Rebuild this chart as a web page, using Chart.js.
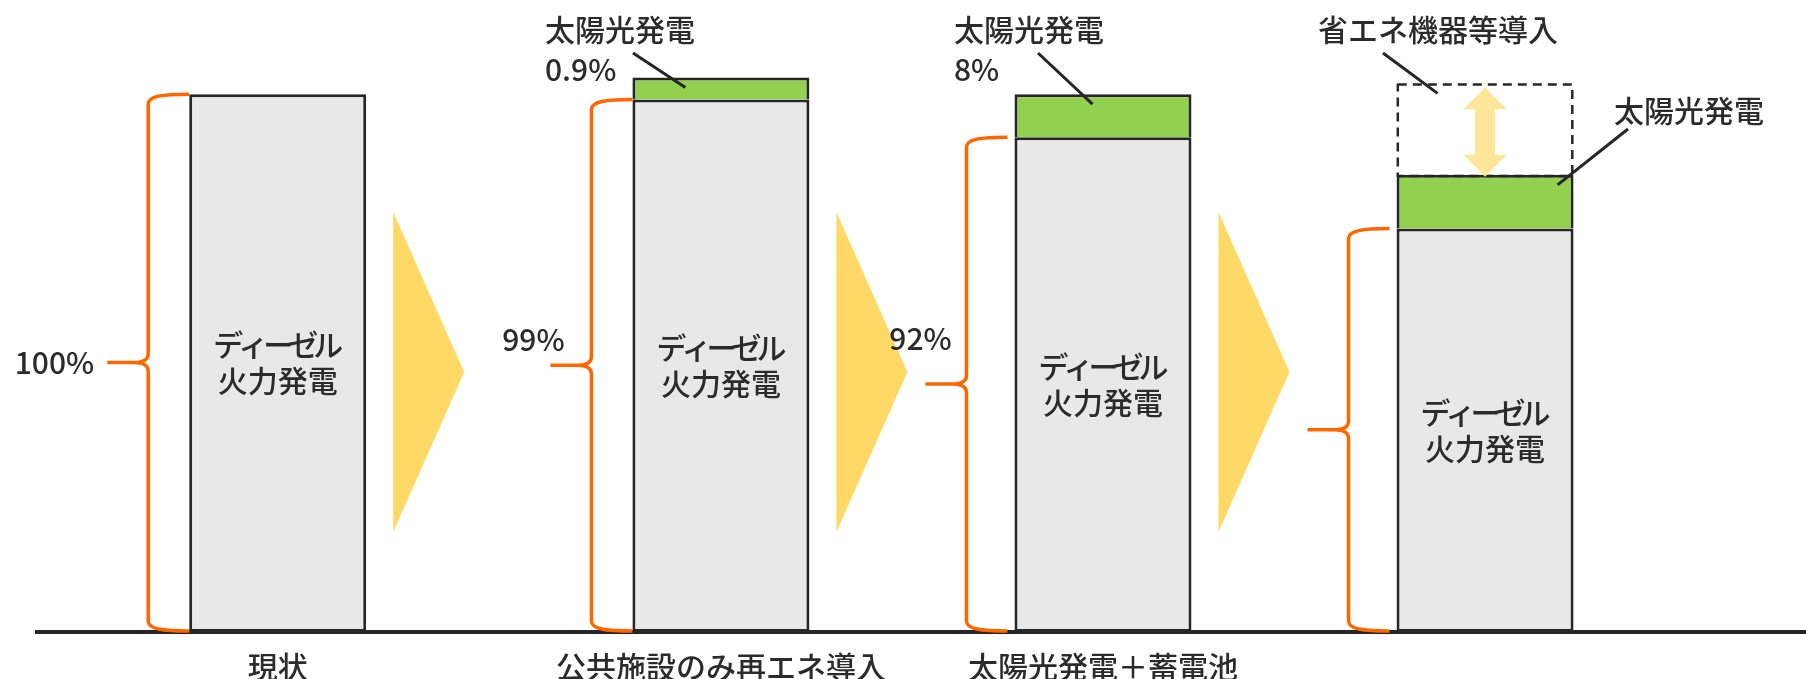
<!DOCTYPE html>
<html lang="ja">
<head>
<meta charset="utf-8">
<title>電源構成の推移</title>
<script src="https://cdn.jsdelivr.net/npm/chart.js@4.4.1/dist/chart.umd.min.js"></script>
<style>
  html, body { margin: 0; padding: 0; background: #fff; }
  #wrap { width: 1806px; height: 679px; position: relative; }
</style>
</head>
<body>
<div id="wrap"><canvas id="chart"></canvas></div>
<script>
// シナリオ（横軸の項目）
const scenarios = ['現状', '公共施設のみ再エネ導入', '太陽光発電＋蓄電池', ''];

// 電源構成（現状の電力需要 = 100%）
const dieselShare = [100, 99, 92, 75];
const solarShare  = [null, 0.9, 8, 10];
const savingShare = [null, null, null, 17];

// 値ラベルを付けるかどうか
const dieselLabelled = [true, true, true, false];
const solarLabelled  = [false, true, true, false];

// 系列名
const dieselName = ['ディーゼル', '火力発電'];
const solarName  = '太陽光発電';
const savingName = '省エネ機器等導入';

// ---- 見た目の設定 ----
const FONT   = '"Noto Sans CJK JP", "Noto Sans", sans-serif';
const WEIGHT = 500;
const INK    = '#262626';
const TEXT   = '#2b2b2b';
const GREY   = '#E8E8E8';
const GREEN  = '#92D050';
const ORANGE = '#FF6600';
const STEP   = '#FFD966';
const PALE   = '#FFE699';

// 各棒の横位置（x 軸の値）
const columnAt = [0, 1.16, 2.16, 3.16];

// 値ラベル（括弧の横）の置き方
const braceLabelPos = [
  { dx: -13, dy: 0,   align: 'right'  },
  { dx: -17, dy: -26, align: 'center' },
  { dx: -5,  dy: -45, align: 'center' },
  null
];

// 吹き出しテキストと引き出し線
const callouts = [
  { ds: 1, i: 1, lines: [solarName, solarShare[1] + '%'], tx: 545,  ty: 30,  from: [633, 53],  endDx: 53,  side: 'left'  },
  { ds: 1, i: 2, lines: [solarName, solarShare[2] + '%'], tx: 954,  ty: 30,  from: [1038, 53], endDx: 78,  side: 'left'  },
  { ds: 1, i: 3, lines: [solarName],                      tx: 1614, ty: 111, from: [1628, 129], endDx: -16, side: 'right' },
  { ds: 2, i: 3, lines: [savingName],                     tx: 1318, ty: 30,  from: [1383, 53], endDx: 41,  side: 'left'  }
];

const pts = arr => arr.map((v, i) => ({ x: columnAt[i], y: v }));

function drawBrace(ctx, endX, yTop, yBot) {
  const vx = endX - 41, tipX = endX - 82, r = 10, yMid = (yTop + yBot) / 2;
  ctx.beginPath();
  ctx.moveTo(endX, yTop);
  ctx.bezierCurveTo(vx + 14, yTop, vx, yTop + 2, vx, yTop + r);
  ctx.lineTo(vx, yMid - 9);
  ctx.quadraticCurveTo(vx, yMid, vx - 14, yMid);
  ctx.lineTo(tipX, yMid);
  ctx.moveTo(vx - 14, yMid);
  ctx.quadraticCurveTo(vx, yMid, vx, yMid + 9);
  ctx.lineTo(vx, yBot - r);
  ctx.bezierCurveTo(vx, yBot - 2, vx + 14, yBot, endX, yBot);
  ctx.stroke();
  return { tipX, yMid };
}

function drawDoubleArrow(ctx, cx, top, bottom) {
  const headH = 22, headW = 43, shaftW = 20;
  ctx.beginPath();
  ctx.moveTo(cx, top);
  ctx.lineTo(cx + headW / 2, top + headH);
  ctx.lineTo(cx + shaftW / 2, top + headH);
  ctx.lineTo(cx + shaftW / 2, bottom - headH);
  ctx.lineTo(cx + headW / 2, bottom - headH);
  ctx.lineTo(cx, bottom);
  ctx.lineTo(cx - headW / 2, bottom - headH);
  ctx.lineTo(cx - shaftW / 2, bottom - headH);
  ctx.lineTo(cx - shaftW / 2, top + headH);
  ctx.lineTo(cx - headW / 2, top + headH);
  ctx.closePath();
  ctx.fill();
}

const annotate = {
  id: 'annotate',
  beforeDatasetsDraw(chart) {
    // シナリオ間の進行を示す三角
    const ctx = chart.ctx;
    const bars = chart.getDatasetMeta(0).data;
    const cy = chart.chartArea.bottom - 260;
    ctx.save();
    ctx.fillStyle = STEP;
    for (let i = 0; i < bars.length - 1; i++) {
      const b = bars[i].getProps(['x', 'width'], true);
      const left = b.x + b.width / 2 + 27;
      ctx.beginPath();
      ctx.moveTo(left, cy - 160);
      ctx.lineTo(left + 71, cy);
      ctx.lineTo(left, cy + 160);
      ctx.closePath();
      ctx.fill();
    }
    ctx.restore();
  },
  afterDatasetsDraw(chart) {
    const ctx = chart.ctx;
    const diesel = chart.getDatasetMeta(0).data;
    ctx.save();
    ctx.font = WEIGHT + ' 30px ' + FONT;
    ctx.textBaseline = 'middle';

    diesel.forEach((el, i) => {
      const b = el.getProps(['x', 'y', 'base', 'width'], true);
      const left = b.x - b.width / 2;

      // 括弧（ディーゼル分の範囲）
      ctx.strokeStyle = ORANGE;
      ctx.lineWidth = 3.5;
      ctx.lineJoin = 'round';
      const gap = i < 2 ? 0 : 7;
      const br = drawBrace(ctx, left - gap, b.y, b.base - 1);

      // 括弧の値ラベル
      const pos = braceLabelPos[i];
      if (dieselLabelled[i] && pos) {
        ctx.fillStyle = TEXT;
        ctx.textAlign = pos.align;
        ctx.fillText(dieselShare[i] + '%', br.tipX + pos.dx, br.yMid + pos.dy);
      }

      // 棒の中の系列名
      const cy = (b.y + b.base) / 2;
      ctx.fillStyle = TEXT;
      ctx.textAlign = 'center';
      if ('letterSpacing' in ctx) ctx.letterSpacing = '-5px';
      ctx.fillText(dieselName[0], b.x - 2, cy - 18);
      if ('letterSpacing' in ctx) ctx.letterSpacing = '0px';
      ctx.fillText(dieselName[1], b.x, cy + 18);
    });

    // 省エネ分（破線の枠と両矢印）
    const saveMeta = chart.getDatasetMeta(2);
    savingShare.forEach((v, i) => {
      if (v == null) return;
      const s = saveMeta.data[i].getProps(['x', 'y', 'base', 'width'], true);
      ctx.strokeStyle = INK;
      ctx.lineWidth = 2.5;
      ctx.setLineDash([9, 6]);
      ctx.strokeRect(s.x - s.width / 2 + 1.25, s.y + 1.25, s.width - 2.5, s.base - s.y);
      ctx.setLineDash([]);
      ctx.fillStyle = PALE;
      drawDoubleArrow(ctx, s.x, s.y + 4, s.base + 2);
    });

    // 吹き出し
    callouts.forEach(c => {
      const el = chart.getDatasetMeta(c.ds).data[c.i];
      if (!el) return;
      const b = el.getProps(['x', 'y', 'width'], true);
      const ex = c.side === 'left' ? b.x - b.width / 2 + c.endDx : b.x + b.width / 2 + c.endDx;
      const ey = b.y + 10;
      ctx.strokeStyle = INK;
      ctx.lineWidth = 3;
      ctx.beginPath();
      ctx.moveTo(c.from[0], c.from[1]);
      ctx.lineTo(ex, ey);
      ctx.stroke();
      ctx.fillStyle = TEXT;
      ctx.textAlign = 'left';
      c.lines.forEach((t, k) => ctx.fillText(t, c.tx, c.ty + k * 40));
    });
    ctx.restore();
  }
};

new Chart(document.getElementById('chart'), {
  type: 'bar',
  data: {
    datasets: [
      { label: dieselName.join(''), data: pts(dieselShare), backgroundColor: GREY, borderColor: INK,
        borderWidth: 3, borderSkipped: false },
      { label: solarName, data: pts(solarShare), backgroundColor: GREEN, borderColor: INK,
        borderWidth: { top: 3, left: 3, right: 3, bottom: 0 }, borderSkipped: false, minBarLength: 22 },
      { label: savingName, data: pts(savingShare), backgroundColor: 'rgba(0,0,0,0)', borderWidth: 0 }
    ]
  },
  options: {
    responsive: true,
    maintainAspectRatio: false,
    animation: false,
    devicePixelRatio: 1,
    layout: { padding: { left: 37, right: 0, top: 0, bottom: 0 } },
    datasets: { bar: { barThickness: 177, inflateAmount: 0 } },
    plugins: { legend: { display: false }, tooltip: { enabled: false } },
    scales: {
      x: {
        type: 'linear',
        stacked: true,
        offset: false,
        min: -0.63,
        max: 4.0,
        grid: { display: false, drawTicks: false, offset: false },
        border: { display: true, color: INK, width: 4 },
        afterBuildTicks: s => { s.ticks = columnAt.map(v => ({ value: v })); },
        afterFit: s => { s.height = 47; },
        ticks: {
          autoSkip: false,
          maxRotation: 0,
          padding: 17,
          color: TEXT,
          font: { family: FONT, size: 30, weight: WEIGHT },
          callback: (v, i) => scenarios[i]
        }
      },
      y: { display: false, stacked: true, min: 0, max: 117.5 }
    }
  },
  plugins: [annotate]
});
</script>
</body>
</html>
